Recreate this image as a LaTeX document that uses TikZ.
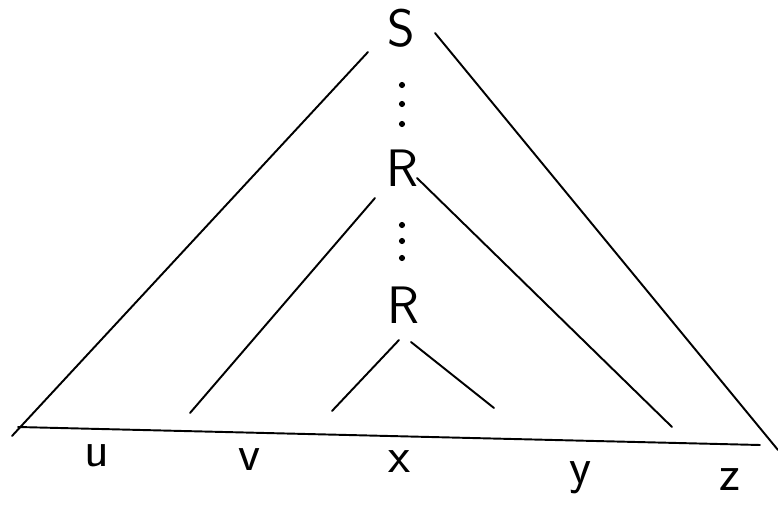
\documentclass[tikz,border=0pt]{standalone}
\usepackage{tikz}
\usetikzlibrary{positioning}

\begin{document}
\begin{tikzpicture}[
    x=0.02cm, y=-0.02cm,
    var/.style={inner sep=1pt, font=\sffamily\fontsize{30}{35}\selectfont},
    leaf/.style={inner sep=1pt, font=\sffamily\fontsize{29}{34}\selectfont},
    edge/.style={line width=1.1pt, line cap=round},
    dot/.style={circle, fill=black, inner sep=0pt, minimum size=3.5pt}
]
    \useasboundingbox (0,0) rectangle (778,510);

    % Nonterminals
    \node[var] (S) at (401,28) {S};
    \node[var] (R1) at (402,168) {R};
    \node[var] (R2) at (403,305) {R};

    % Ends on the yield line
    \coordinate (b0) at (12,436);
    \coordinate (b1) at (190,413);
    \coordinate (b2) at (332,411);
    \coordinate (b3) at (494,408);
    \coordinate (b4) at (672,427);
    \coordinate (b5) at (778,450);
    \coordinate (base0) at (18,427);
    \coordinate (base1) at (760,445);

    % Outer triangle
    \draw[edge] (S) ++(-33,24) -- (b0);
    \draw[edge] (S) ++(34,5) -- (b5);
    \draw[edge] (base0) -- (base1);

    % Middle triangle
    \draw[edge] (R1) ++(-27,30) -- (b1);
    \draw[edge] (R1) ++(15,10) -- (b4);

    % Inner triangle
    \draw[edge] (R2) ++(-4,35) -- (b2);
    \draw[edge] (R2) ++(8,37) -- (b3);

    % Dotted paths
    \foreach \yy [count=\i] in {85,104,124} \node[dot] (d\i) at (402,\yy) {};
    \foreach \yy [count=\i] in {225,241,258} \node[dot] (e\i) at (402,\yy) {};

    % Yield
    \node[leaf] (u) at (97,456) {u};
    \node[leaf] (v) at (250,460) {v};
    \node[leaf] (x) at (400,462) {x};
    \node[leaf] (y) at (580,478) {y};
    \node[leaf] (z) at (730,480) {z};
\end{tikzpicture}
\end{document}
